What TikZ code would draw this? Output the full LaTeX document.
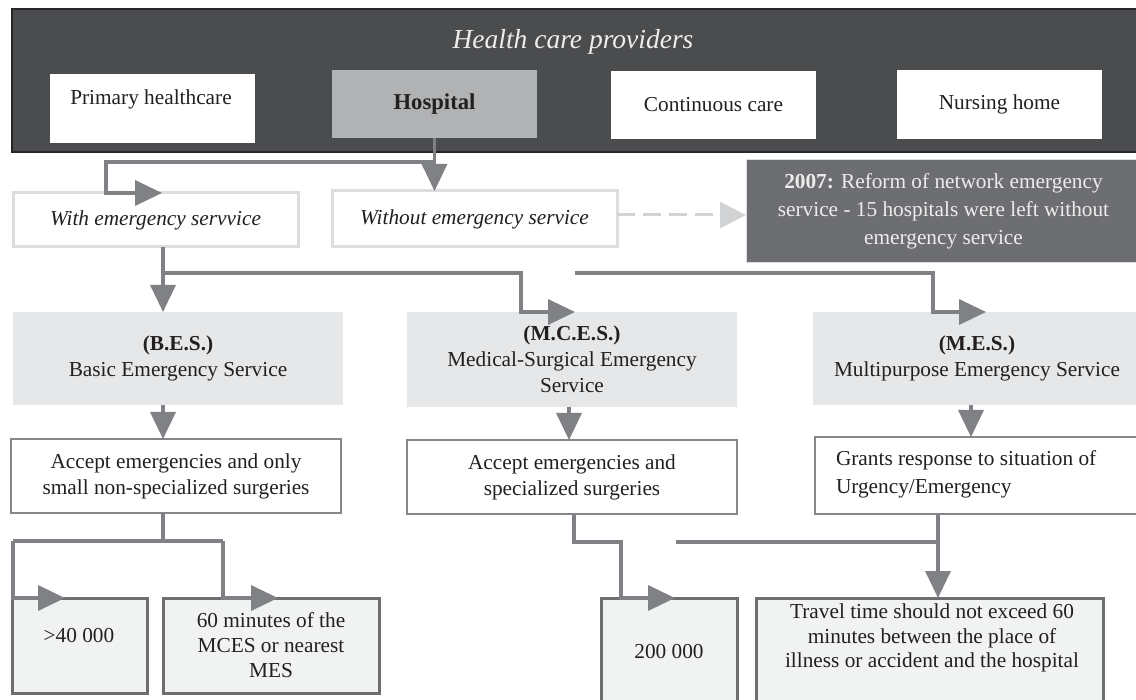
\documentclass[tikz,border=0pt]{standalone}
\usepackage{fontspec}
\setmainfont{Liberation Serif}
\usetikzlibrary{arrows.meta,calc}
\definecolor{hdr}{HTML}{4B4C4E}
\definecolor{hdrline}{HTML}{262628}
\definecolor{hospfill}{HTML}{B1B2B4}
\definecolor{conncol}{HTML}{808184}
\definecolor{lightline}{HTML}{DCDDDE}
\definecolor{svcfill}{HTML}{E6E7E8}
\definecolor{accline}{HTML}{858689}
\definecolor{botfill}{HTML}{F1F2F2}
\definecolor{botline}{HTML}{6D6E71}
\definecolor{notefill}{HTML}{6D6E71}
\definecolor{notetext}{HTML}{EDEDED}
\definecolor{dashcol}{HTML}{D1D3D4}
\definecolor{ink}{HTML}{231F20}
\begin{document}
\begin{tikzpicture}[x=0.5pt,y=-0.5pt,
  every node/.style={inner sep=0pt,outer sep=0pt,text=ink,
    font=\fontsize{10.65pt}{13pt}\selectfont,align=center},
  whitebox/.style={rectangle,fill=white},
  hospbox/.style={rectangle,fill=hospfill},
  optbox/.style={rectangle,fill=white,draw=lightline,line width=1.5pt},
  svcbox/.style={rectangle,fill=svcfill},
  accbox/.style={rectangle,fill=white,draw=accline,line width=1.25pt},
  botbox/.style={rectangle,fill=botfill,draw=botline,line width=1.5pt},
  notebox/.style={rectangle,fill=notefill,draw=lightline,line width=0.5pt},
  conn/.style={draw=conncol,line width=1.75pt,-{Triangle[length=13.5pt,width=12.5pt]},color=conncol},
  plainline/.style={draw=conncol,line width=1.75pt},
  dashconn/.style={draw=dashcol,line width=1.5pt,dash pattern=on 9pt off 4pt,-{Triangle[length=13pt,width=13pt]},color=dashcol}
]
\useasboundingbox (0,0) rectangle (1136,700);
\fill[white] (0,0) rectangle (1136,700);

% header
\node[rectangle,fill=hdr,draw=hdrline,line width=1pt,minimum width=565pt,minimum height=71.5pt] (header) at (576.5,80.5) {};
\node[font=\itshape\fontsize{13.75pt}{16pt}\selectfont,text=notetext] (htitle) at (573,42) {Health care providers};
\node[whitebox,minimum width=102.5pt,minimum height=34.5pt] (prim) at (152.5,108.5) {};
\node (primtxt) at (151,99) {Primary healthcare};
\node[hospbox,minimum width=102.5pt,minimum height=34pt,font=\bfseries\fontsize{11.35pt}{13pt}\selectfont] (hosp) at (434.5,104) {Hospital};
\node[whitebox,minimum width=102.5pt,minimum height=34pt] (cont) at (713.5,105) {Continuous care};
\node[whitebox,minimum width=102.5pt,minimum height=34.5pt] (nurs) at (999.5,104.5) {Nursing home};

% second row
\node[optbox,minimum width=142.5pt,minimum height=27pt,font=\itshape\fontsize{10.65pt}{13pt}\selectfont] (with) at (155.5,220) {With emergency servvice};
\node[optbox,minimum width=142.5pt,minimum height=28pt,font=\itshape\fontsize{10.65pt}{13pt}\selectfont] (without) at (474.5,219) {Without emergency service};
\node[notebox,minimum width=197.5pt,minimum height=51.5pt,text=notetext,font=\fontsize{10.65pt}{14pt}\selectfont] (note) at (943.5,211.5) {\textbf{2007:} Reform of network emergency\\service - 15 hospitals were left without\\emergency service};

% services
\node[svcbox,minimum width=165pt,minimum height=46.5pt] (bes) at (178,358.5) {\textbf{(B.E.S.)}\\Basic Emergency Service};
\node[svcbox,minimum width=165pt,minimum height=47.5pt] (mces) at (572,359.5) {\textbf{(M.C.E.S.)}\\Medical-Surgical Emergency\\Service};
\node[svcbox,minimum width=164pt,minimum height=46.5pt] (mes) at (977,358.5) {\textbf{(M.E.S.)}\\Multipurpose Emergency Service};

% accept row
\node[accbox,minimum width=165pt,minimum height=37pt] (acc1) at (176,476) {Accept emergencies and only\\small non-specialized surgeries};
\node[accbox,minimum width=165pt,minimum height=37pt] (acc2) at (572,477) {Accept emergencies and\\specialized surgeries};
\node[accbox,minimum width=163pt,minimum height=38.5pt] (grants) at (978,475.5) {};
\node[anchor=west,align=left,font=\fontsize{10.65pt}{14pt}\selectfont] (grantstxt) at (836,474) {Grants response to situation of\\Urgency/Emergency};

% bottom row
\node[botbox,minimum width=67.5pt,minimum height=47.5pt] (b1) at (79.5,645.5) {};
\node (b1txt) at (79,636) {>40 000};
\node[botbox,minimum width=108pt,minimum height=47.5pt,font=\fontsize{10.65pt}{12.5pt}\selectfont] (b2) at (271,645.5) {60 minutes of the\\MCES or nearest\\MES};
\node[botbox,minimum width=68pt,minimum height=53.5pt] (b3) at (669,651.5) {200 000};
\node[botbox,minimum width=173.5pt,minimum height=53.5pt] (b4) at (929.5,651.5) {};
\node[font=\fontsize{10.65pt}{12.3pt}\selectfont] (b4txt) at (932,638) {Travel time should not exceed 60\\minutes between the place of\\illness or accident and the hospital};

% connectors
\coordinate (hj) at (106,162);
\coordinate (withtip) at (162,193);
\draw[conn] (hosp.south) |- (hj) |- (withtip);
\draw[conn] (hosp.south) -- (hosp.south |- without.north);
\draw[dashconn] (without.east |- 0,215) -- (note.west |- 0,215);

\coordinate (wj) at (163,273);
\coordinate (mbend) at (521,273);
\coordinate (mcestip) at (575,312);
\draw[conn] (wj |- with.south) -- (wj |- bes.north);
\draw[conn] (wj) -- (mbend) |- (mcestip);
\coordinate (ms) at (575,273);
\coordinate (mesbend) at (933,273);
\coordinate (mestip) at (986,312);
\draw[conn] (ms) -- (mesbend) |- (mestip);

\draw[conn] (wj |- bes.south) -- (wj |- acc1.north);
\draw[conn] (mces.south -| 569,0) -- (acc2.north -| 569,0);
\draw[conn] (mes.south -| 971,0) -- (grants.north -| 971,0);

\coordinate (aj) at (163,541);
\coordinate (al) at (13,541);
\coordinate (ar) at (223,541);
\coordinate (b1tip) at (65,598);
\coordinate (b2tip) at (278,598);
\draw[plainline] (wj |- acc1.south) -- (aj);
\draw[plainline] (al) -- (ar);
\draw[conn] (al) |- (b1tip);
\draw[conn] (ar) |- (b2tip);

\coordinate (c1) at (574,542);
\coordinate (c2) at (621,542);
\coordinate (b3tip) at (675,598);
\draw[conn] (c1 |- acc2.south) -- (c1) -- (c2) |- (b3tip);

\coordinate (gx) at (938,542);
\coordinate (gl) at (676,542);
\draw[plainline] (gl) -- (gx);
\draw[conn] (gx |- grants.south) -- (gx |- b4.north);
\end{tikzpicture}
\end{document}
